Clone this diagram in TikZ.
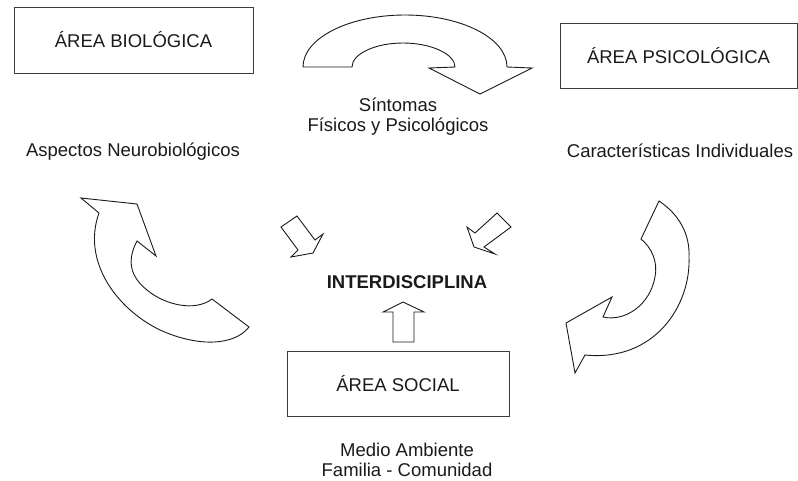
\documentclass[tikz,border=0pt]{standalone}
\usepackage{fontspec}
\setmainfont{Liberation Sans}
\definecolor{Ink}{HTML}{1A1A1A}
\definecolor{BoxLine}{HTML}{3C3C3C}
\tikzset{area/.style={draw=BoxLine,line width=1pt,minimum height=65pt,inner sep=0pt},
  bigarrow/.style={draw=Ink,line width=0.9pt,line join=miter,fill=white},
  smallarrow/.style={draw=Ink,line width=0.9pt,line join=miter,fill=white}}

\begin{document}
\begin{tikzpicture}[x=1pt,y=-1pt,font=\fontsize{18.5}{19.5}\selectfont,every node/.style={text=Ink}]
\useasboundingbox (0,0) rectangle (798,480);
\node[area,minimum width=239pt,minimum height=66pt] (bio) at (133.5,40){ÁREA BIOLÓGICA};
\node[area,minimum width=237pt] (psico) at (678.5,55.5){ÁREA PSICOLÓGICA};
\node[area,minimum width=222pt] (social) at (398,383.5){ÁREA SOCIAL};
\node[align=center] (sintomas) at (398,116.5){Síntomas\\Físicos y Psicológicos};
\node (neuro) at (133,152){Aspectos Neurobiológicos};
\node (indiv) at (680,151){Características Individuales};
\node[font=\fontsize{18.5}{19.5}\selectfont\bfseries] (inter) at (407,282){INTERDISCIPLINA};
\node[align=center] (medio) at (407,460){Medio Ambiente\\Familia - Comunidad};
\draw[bigarrow] (303,67) .. controls (303,38) and (349,15) .. (405,15) .. controls (461,15) and (507,38) .. (507,67) -- (532,68) -- (480,94) -- (429,68) -- (455,67) .. controls (455,54) and (431,43) .. (403,43) .. controls (375,43) and (352,54) .. (352,67) -- cycle;
\draw[bigarrow] (81,198) -- (137,204) -- (156,256) -- (137,241) .. controls (128,258) and (128,275) .. (147,290) .. controls (165,305) and (195,312) .. (212,299) -- (249,327) .. controls (235,345) and (200,348) .. (160,330) .. controls (115,308) and (82,260) .. (99,213) -- cycle;
\draw[bigarrow] (659,201) .. controls (680,215) and (690,235) .. (689,257) .. controls (691,305) and (655,362) .. (585,355) -- (575,373) -- (566,323) -- (612,297) -- (603,317) .. controls (625,322) and (650,305) .. (655,277) .. controls (658,262) and (652,248) .. (641,239) -- cycle;
\draw[smallarrow] (281,227) -- (297,216) -- (315,240) -- (323,234) -- (313,253) -- (291,257) -- (298,250) -- cycle;
\draw[smallarrow] (497,213) -- (511,227) -- (484,247) -- (495,254) -- (474,247) -- (467,227) -- (475,233) -- cycle;
\draw[smallarrow] (393,342) -- (393,312) -- (383,312) -- (403,302) -- (424,312) -- (414,312) -- (414,342) -- cycle;
\end{tikzpicture}
\end{document}
